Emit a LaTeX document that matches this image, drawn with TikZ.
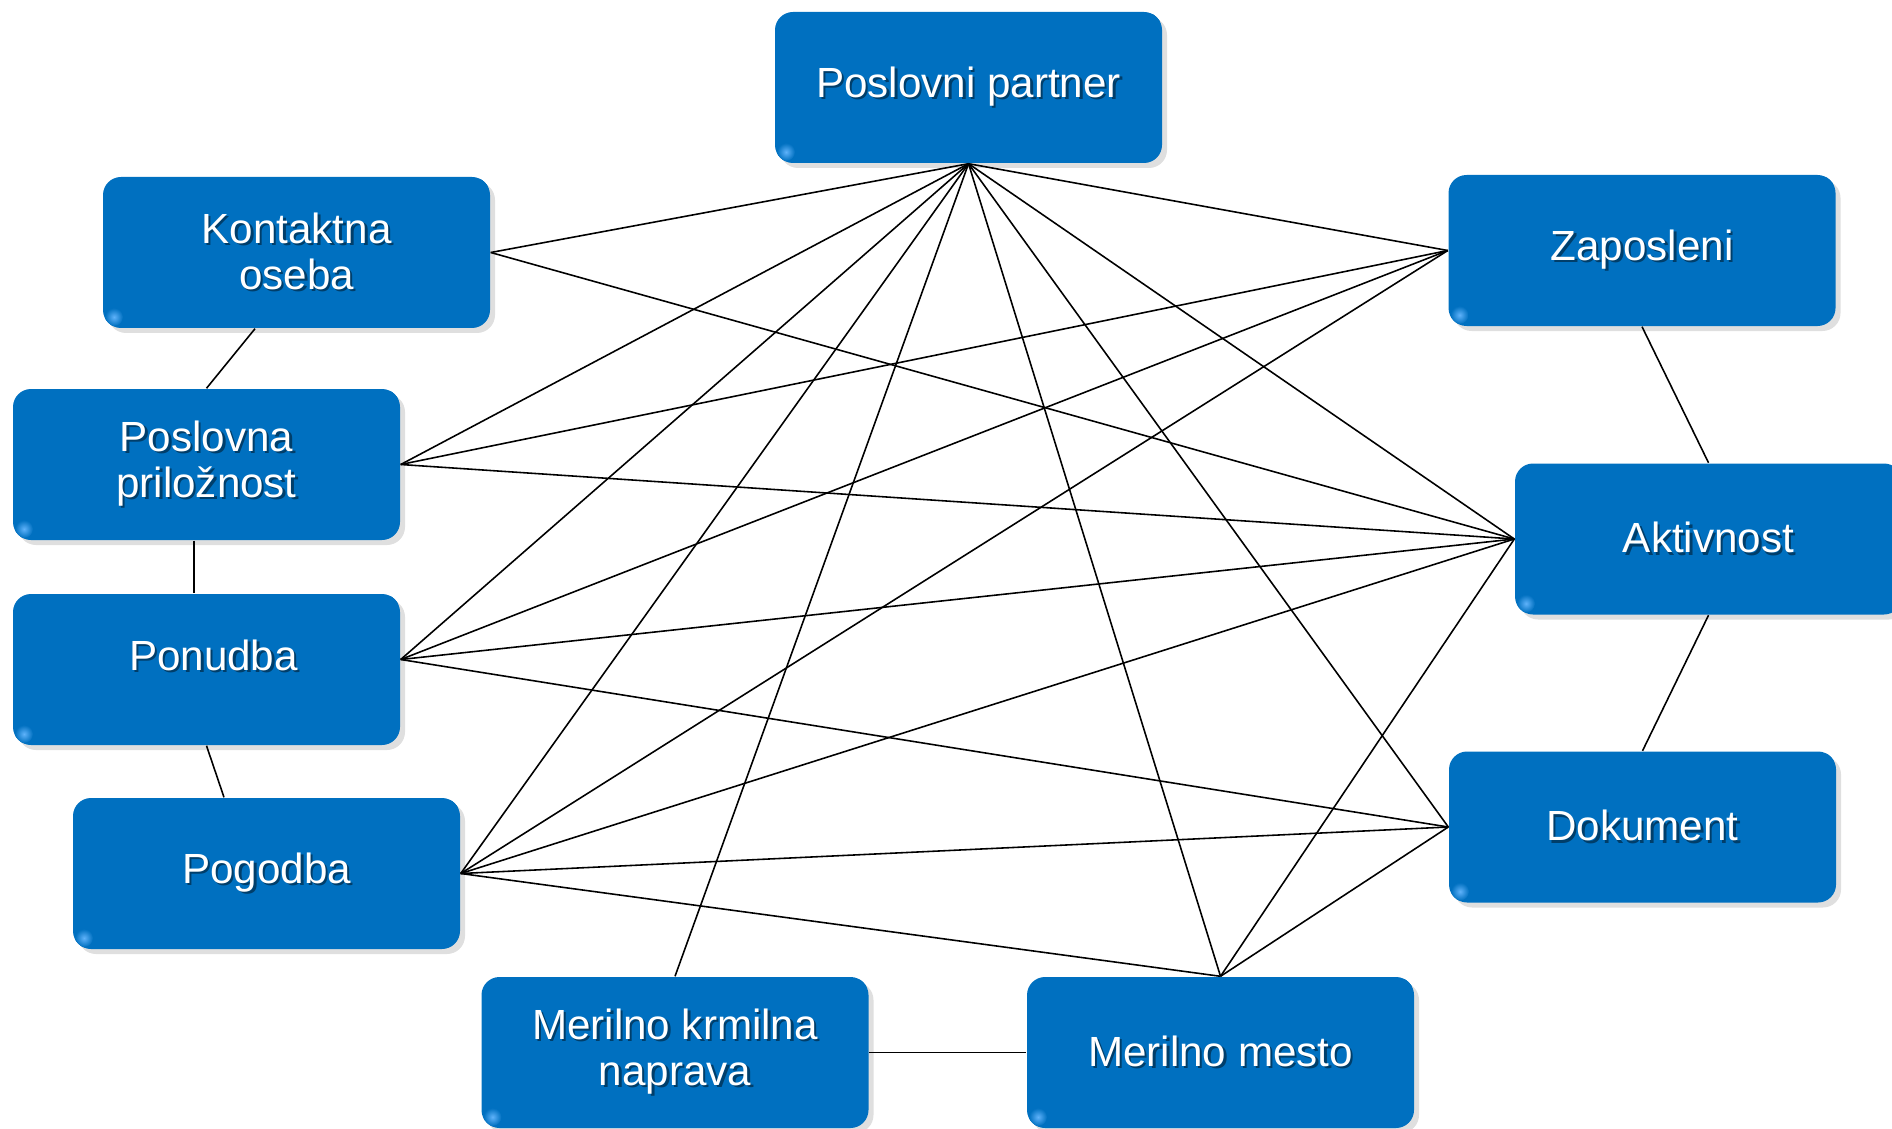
\documentclass[tikz,border=0pt]{standalone}
\usepackage{fontspec}
\setmainfont{Liberation Sans}
\usepackage{xcolor}
\usepackage{tikz}
\usetikzlibrary{positioning,calc,shadows}

\definecolor{boxblue}{RGB}{0,112,192}
\definecolor{boxlight}{RGB}{95,178,250}

% text with a soft shadow
\newcommand{\sht}[1]{\rlap{\kern0.7pt\raisebox{-0.7pt}{\textcolor{boxblue!55!black}{#1}}}#1}

\tikzset{
    entity/.style={draw=none, fill=boxblue, rounded corners=0.18cm,
        minimum width=3.87cm, minimum height=1.51cm, inner sep=0pt,
        text=white, align=center, font=\fontsize{12}{13}\selectfont,
        drop shadow={shadow xshift=0.05cm, shadow yshift=-0.05cm, opacity=0.25},
        path picture={
            \shade[inner color=boxlight, outer color=boxblue]
                ($(path picture bounding box.north east)+(-0.11,-0.11)$) circle (0.09);
            \shade[inner color=boxlight, outer color=boxblue]
                ($(path picture bounding box.south west)+(0.11,0.11)$) circle (0.09);
        }},
    link/.style={draw=black, line width=0.45pt}
}

\begin{document}
\begin{tikzpicture}
    \useasboundingbox (0,0) rectangle (18.92,11.28);

    % Boxes
    \node[entity] (partner) at (9.685,10.405) {\sht{Poslovni partner}};
    \node[entity] (kontakt) at (2.965,8.755) {\sht{Kontaktna}\\\sht{oseba}};
    \node[entity] (zaposleni) at (16.42,8.775) {\sht{Zaposleni}};
    \node[entity] (priloznost) at (2.065,6.635) {\sht{Poslovna}\\\sht{priložnost}};
    \node[entity] (aktivnost) at (17.085,5.89) {\sht{Aktivnost}};
    \node[entity, text depth=8.2pt] (ponudba) at (2.065,4.585) {\hspace*{0.14cm}\sht{Ponudba}};
    \node[entity] (dokument) at (16.425,3.01) {\sht{Dokument}};
    \node[entity] (pogodba) at (2.665,2.545) {\sht{Pogodba}};
    \node[entity] (naprava) at (6.75,0.755) {\sht{Merilno krmilna}\\\sht{naprava}};
    \node[entity] (mesto) at (12.205,0.755) {\sht{Merilno mesto}};
    \coordinate (ponudbaR) at ([yshift=0.1cm]ponudba.east);

    % Outer chain
    \draw[link] ([xshift=-0.415cm]kontakt.south) -- (priloznost.north);
    \draw[link] ([xshift=-0.125cm]priloznost.south) -- ([xshift=-0.125cm]ponudba.north);
    \draw[link] (ponudba.south) -- ([xshift=-0.425cm]pogodba.north);
    \draw[link] (zaposleni.south) -- (aktivnost.north);
    \draw[link] (aktivnost.south) -- (dokument.north);
    \draw[link] (naprava.east) -- (mesto.west);

    % Links from the partner
    \foreach \t in {kontakt.east,zaposleni.west,priloznost.east,ponudbaR,
        pogodba.east,naprava.north,mesto.north,aktivnost.west,dokument.west}
        \draw[link] (partner.south) -- (\t);

    % Cross links
    \draw[link] (kontakt.east) -- (aktivnost.west);
    \foreach \t in {priloznost.east,ponudbaR,pogodba.east}
        \draw[link] (zaposleni.west) -- (\t);
    \draw[link] (priloznost.east) -- (aktivnost.west);
    \foreach \t in {ponudbaR,pogodba.east,mesto.north}
        \draw[link] (aktivnost.west) -- (\t);
    \draw[link] (ponudbaR) -- (dokument.west);
    \foreach \t in {pogodba.east,mesto.north}
        \draw[link] (dokument.west) -- (\t);
    \draw[link] (pogodba.east) -- (mesto.north);
\end{tikzpicture}
\end{document}
